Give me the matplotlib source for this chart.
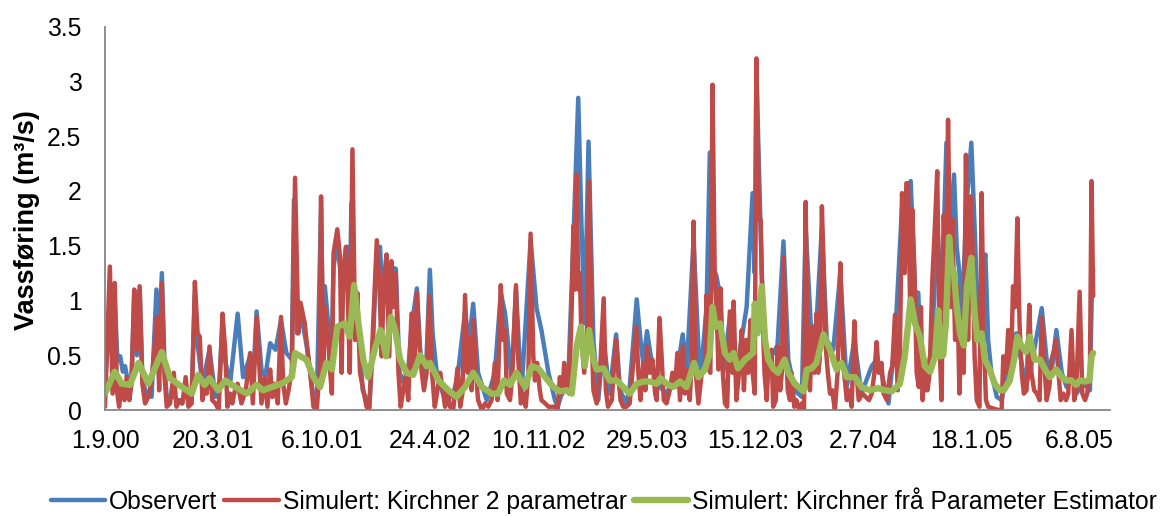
import matplotlib
matplotlib.use("Agg")
import matplotlib.pyplot as plt

plt.rcParams["font.family"] = ["Liberation Sans", "DejaVu Sans"]

# Daily discharge, 1.9.2000 - 31.8.2005, given as (day since 1.9.2000, m3/s) vertices
obs_days = [0, 9, 14, 18, 23, 28, 33, 37, 43, 49, 54, 59, 64, 69, 74, 86, 95, 100, 105, 110,
            114, 127, 142, 149, 160, 166, 171, 180, 193, 204, 210, 217, 222, 231, 245, 255, 268,
            274, 280, 289, 296, 305, 315, 325, 335, 345, 349, 355, 361, 372, 380, 386, 391, 399,
            403, 406, 412, 418, 422, 429, 434, 440, 447, 452, 455, 462, 466, 476, 488, 494, 502,
            508, 513, 520, 525, 530, 537, 544, 557, 566, 576, 582, 588, 594, 600, 605, 612, 624,
            642, 651, 665, 672, 680, 689, 705, 720, 731, 739, 751, 759, 769, 786, 797, 806, 819,
            831, 836, 856, 865, 874, 880, 886, 893, 902, 911, 921, 932, 944, 951, 963, 969, 982,
            989, 994, 1001, 1009, 1019, 1037, 1056, 1067, 1074, 1087, 1099, 1111, 1117, 1122,
            1129, 1136, 1142, 1154, 1166, 1185, 1196, 1200, 1203, 1213, 1222, 1231, 1242, 1253,
            1262, 1274, 1287, 1294, 1305, 1314, 1324, 1333, 1345, 1358, 1370, 1384, 1397, 1416,
            1425, 1434, 1447, 1459, 1472, 1480, 1488, 1496, 1502, 1508, 1515, 1528, 1533, 1537,
            1545, 1554, 1562, 1568, 1573, 1578, 1582, 1586, 1591, 1600, 1607, 1613, 1619, 1626,
            1631, 1637, 1647, 1656, 1665, 1683, 1696, 1702, 1714, 1730, 1739, 1748, 1757, 1767,
            1776, 1785, 1794, 1807, 1819, 1823, 1825]
obs_flow = [0.24, 0.90, 0.35, 1.00, 0.45, 0.49, 0.35, 0.40, 0.24, 0.30, 1.05, 0.50, 1.10, 0.30,
            0.18, 0.12, 1.10, 0.60, 1.25, 0.40, 0.12, 0.12, 0.06, 0.20, 0.12, 1.05, 0.60, 0.24,
            0.55, 0.12, 0.15, 0.80, 0.45, 0.24, 0.88, 0.30, 0.49, 0.30, 0.90, 0.37, 0.30, 0.61,
            0.55, 0.82, 0.52, 0.46, 1.92, 0.70, 0.90, 0.60, 0.30, 0.06, 0.06, 1.85, 0.60, 1.13,
            0.80, 0.30, 1.30, 1.55, 1.30, 1.20, 1.49, 0.90, 1.89, 0.64, 0.90, 0.18, 0.03, 0.50,
            1.45, 1.49, 0.90, 1.35, 0.90, 1.30, 1.29, 0.34, 0.18, 0.75, 1.11, 0.55, 0.34, 0.50,
            1.28, 0.70, 0.37, 0.15, 0.12, 0.30, 0.90, 0.60, 0.97, 0.34, 0.09, 0.34, 1.07, 0.88,
            0.27, 1.10, 0.15, 1.55, 0.93, 0.73, 0.34, 0.09, 0.03, 0.34, 1.55, 2.85, 1.68, 0.79,
            2.45, 0.64, 0.09, 0.64, 0.15, 0.69, 0.18, 0.06, 0.21, 1.01, 0.64, 0.43, 0.72, 0.46,
            0.24, 0.15, 0.34, 0.69, 0.34, 1.55, 0.24, 0.94, 2.35, 1.30, 1.23, 1.04, 0.34, 0.85,
            0.34, 0.94, 1.98, 1.25, 3.08, 1.25, 0.34, 0.49, 0.59, 1.54, 0.46, 0.18, 0.12, 1.67,
            0.64, 0.80, 1.67, 0.64, 0.55, 1.25, 0.21, 0.64, 0.15, 0.40, 0.46, 0.34, 0.06, 0.64,
            1.86, 2.00, 2.09, 1.08, 1.07, 0.30, 0.18, 0.64, 1.25, 1.71, 0.94, 2.44, 1.68, 2.15,
            1.49, 1.25, 0.79, 1.25, 1.86, 2.44, 1.55, 0.64, 1.25, 1.42, 0.64, 0.34, 0.12, 0.09,
            0.34, 0.70, 0.34, 0.24, 0.49, 0.93, 0.46, 0.34, 0.73, 0.34, 0.21, 0.34, 0.15, 0.24,
            0.18, 1.20, 1.28]

kir2_days = [0, 9, 14, 18, 22, 26, 31, 36, 40, 45, 49, 54, 59, 64, 69, 74, 80, 86, 91, 96, 100,
             105, 110, 114, 120, 127, 132, 138, 143, 149, 154, 160, 166, 171, 175, 180, 185, 188,
             193, 198, 204, 210, 217, 222, 226, 231, 235, 240, 245, 252, 260, 268, 273, 280, 285,
             289, 295, 300, 305, 309, 313, 319, 325, 329, 334, 339, 345, 351, 357, 361, 369, 372,
             379, 385, 391, 396, 399, 403, 406, 412, 416, 419, 422, 429, 434, 437, 440, 445, 449,
             452, 457, 462, 466, 471, 477, 483, 488, 494, 502, 507, 511, 515, 520, 525, 529, 532,
             537, 542, 546, 551, 556, 560, 566, 571, 576, 580, 585, 589, 594, 599, 604, 609, 614,
             619, 623, 628, 633, 637, 643, 651, 656, 660, 665, 670, 673, 677, 681, 685, 689, 696,
             702, 708, 714, 720, 725, 731, 735, 739, 742, 748, 752, 759, 763, 768, 773, 777, 782,
             786, 791, 794, 798, 803, 806, 813, 819, 825, 831, 836, 840, 845, 848, 853, 857, 862,
             865, 868, 871, 874, 877, 880, 885, 890, 894, 899, 902, 908, 914, 921, 925, 929, 936,
             940, 944, 948, 952, 957, 963, 969, 974, 981, 985, 989, 994, 998, 1001, 1006, 1011,
             1016, 1019, 1024, 1028, 1032, 1037, 1043, 1048, 1053, 1057, 1062, 1067, 1071, 1075,
             1080, 1083, 1087, 1091, 1096, 1102, 1108, 1111, 1115, 1118, 1122, 1126, 1130, 1133,
             1137, 1141, 1145, 1149, 1154, 1159, 1161, 1166, 1171, 1176, 1180, 1184, 1188, 1192,
             1196, 1200, 1203, 1208, 1211, 1214, 1218, 1222, 1226, 1231, 1234, 1239, 1242, 1247,
             1250, 1253, 1257, 1261, 1265, 1268, 1273, 1277, 1282, 1287, 1291, 1294, 1298, 1302,
             1306, 1310, 1314, 1317, 1320, 1324, 1327, 1330, 1335, 1339, 1343, 1348, 1353, 1358,
             1362, 1365, 1370, 1374, 1379, 1384, 1388, 1392, 1399, 1405, 1411, 1416, 1421, 1425,
             1429, 1434, 1438, 1444, 1450, 1454, 1459, 1464, 1468, 1472, 1477, 1480, 1483, 1487,
             1491, 1495, 1499, 1503, 1507, 1510, 1514, 1519, 1523, 1528, 1533, 1537, 1541, 1545,
             1549, 1553, 1557, 1562, 1565, 1570, 1574, 1578, 1582, 1586, 1590, 1594, 1599, 1602,
             1606, 1610, 1615, 1619, 1623, 1627, 1631, 1637, 1643, 1650, 1656, 1659, 1664, 1668,
             1673, 1677, 1681, 1685, 1689, 1693, 1697, 1702, 1707, 1711, 1716, 1721, 1726, 1730,
             1734, 1739, 1744, 1748, 1753, 1756, 1761, 1765, 1770, 1775, 1779, 1785, 1790, 1794,
             1800, 1805, 1810, 1814, 1819, 1822, 1825]
kir2_flow = [0.03, 1.31, 0.15, 1.16, 0.18, 0.03, 0.24, 0.09, 0.30, 0.09, 0.24, 1.10, 0.55, 1.13,
             0.24, 0.06, 0.12, 0.27, 0.55, 0.85, 0.18, 1.16, 0.30, 0.03, 0.06, 0.34, 0.03, 0.09,
             0.06, 0.30, 0.03, 0.06, 1.17, 0.70, 0.67, 0.09, 0.24, 0.15, 0.58, 0.09, 0.06, 0.00,
             0.88, 0.55, 0.03, 0.15, 0.06, 0.18, 0.24, 0.06, 0.18, 0.52, 0.06, 0.85, 0.40, 0.06,
             0.30, 0.03, 0.37, 0.12, 0.24, 0.06, 0.85, 0.24, 0.06, 0.18, 0.37, 2.12, 0.70, 0.98,
             0.79, 0.64, 0.34, 0.03, 0.00, 0.34, 1.95, 0.34, 0.94, 0.64, 0.34, 0.15, 1.43, 1.65,
             1.40, 0.34, 1.25, 1.49, 0.94, 0.34, 2.38, 0.64, 1.07, 0.34, 0.18, 0.03, 0.00, 0.64,
             1.55, 1.10, 0.49, 1.19, 1.42, 0.49, 1.36, 0.94, 1.25, 0.34, 0.03, 0.18, 0.34, 0.09,
             0.88, 0.34, 1.07, 0.64, 0.34, 0.18, 0.34, 1.04, 0.34, 0.03, 0.18, 0.34, 0.21, 0.03,
             0.18, 0.03, 0.00, 0.38, 0.03, 0.15, 1.05, 0.34, 0.67, 0.18, 0.82, 0.34, 0.09, 0.00,
             0.06, 0.03, 0.09, 0.43, 0.09, 1.14, 0.64, 0.73, 0.15, 0.09, 0.30, 1.14, 0.49, 0.06,
             0.15, 0.03, 0.34, 1.61, 0.49, 0.27, 0.43, 0.18, 0.09, 0.06, 0.03, 0.03, 0.03, 0.00,
             0.30, 0.15, 0.43, 0.18, 0.15, 0.94, 1.68, 1.10, 2.15, 1.10, 1.25, 0.64, 0.34, 0.64,
             2.09, 0.64, 0.18, 0.06, 0.34, 1.02, 0.18, 0.03, 0.09, 0.40, 0.64, 0.34, 0.09, 0.03,
             0.03, 0.06, 0.34, 0.76, 0.34, 0.09, 0.43, 0.18, 0.58, 0.34, 0.46, 0.15, 0.09, 0.84,
             0.49, 0.09, 0.06, 0.18, 0.34, 0.21, 0.52, 0.09, 0.58, 0.15, 0.37, 0.09, 0.40, 1.72,
             0.34, 0.06, 0.34, 0.37, 1.05, 0.37, 0.34, 2.97, 1.25, 0.85, 0.37, 1.11, 0.34, 0.06,
             0.03, 0.90, 0.34, 0.99, 0.09, 0.34, 0.73, 0.18, 0.64, 0.34, 0.82, 0.34, 0.15, 3.21,
             1.74, 1.74, 0.94, 0.34, 0.09, 0.49, 0.55, 0.03, 0.09, 0.58, 0.18, 0.34, 1.40, 0.64,
             0.18, 0.09, 0.34, 0.03, 0.09, 0.00, 0.06, 0.00, 1.90, 0.34, 0.18, 0.76, 0.34, 0.88,
             0.34, 0.46, 1.86, 1.31, 0.64, 0.34, 0.15, 0.18, 0.00, 0.34, 1.34, 0.64, 0.34, 0.09,
             0.18, 0.03, 0.81, 0.34, 0.09, 0.15, 0.12, 0.09, 0.15, 0.34, 0.62, 0.34, 0.43, 0.15,
             0.09, 0.34, 0.40, 0.87, 0.18, 0.49, 1.98, 1.25, 2.07, 2.07, 0.94, 1.83, 1.25, 0.34,
             0.21, 0.94, 0.09, 0.46, 0.18, 0.34, 1.19, 1.71, 2.18, 0.64, 0.09, 1.78, 1.25, 2.65,
             0.94, 1.74, 0.64, 1.13, 0.15, 0.76, 0.34, 2.33, 0.64, 1.95, 1.55, 0.49, 0.09, 0.03,
             1.98, 0.64, 0.09, 0.03, 0.02, 0.01, 0.00, 0.00, 0.49, 0.34, 0.73, 0.34, 1.13, 0.94,
             1.75, 0.79, 0.34, 0.15, 0.18, 0.96, 0.34, 0.18, 0.15, 0.09, 0.85, 0.49, 0.09, 0.21,
             0.46, 0.55, 0.64, 0.34, 0.09, 0.15, 0.09, 0.15, 0.73, 0.09, 0.18, 1.08, 0.15, 0.09,
             0.15, 0.34, 2.09, 1.04]

pe_days = [0, 18, 31, 46, 62, 80, 105, 120, 142, 160, 172, 184, 193, 209, 222, 240, 262, 280,
           292, 308, 326, 345, 351, 361, 372, 385, 397, 409, 419, 429, 443, 452, 460, 468, 477,
           486, 498, 509, 519, 528, 536, 545, 557, 569, 582, 594, 600, 616, 634, 649, 665, 680,
           696, 714, 726, 737, 748, 760, 776, 788, 800, 813, 828, 840, 853, 862, 871, 879, 886,
           894, 902, 908, 921, 932, 945, 957, 969, 982, 994, 1006, 1019, 1026, 1037, 1049, 1062,
           1074, 1088, 1096, 1108, 1117, 1122, 1128, 1136, 1145, 1154, 1161, 1169, 1182, 1197,
           1200, 1205, 1213, 1219, 1225, 1234, 1243, 1255, 1262, 1274, 1290, 1296, 1305, 1314,
           1327, 1339, 1351, 1360, 1370, 1385, 1397, 1413, 1428, 1440, 1453, 1468, 1477, 1488,
           1496, 1505, 1514, 1524, 1533, 1539, 1543, 1548, 1553, 1559, 1563, 1568, 1573, 1579,
           1586, 1592, 1600, 1605, 1611, 1619, 1625, 1634, 1643, 1653, 1660, 1671, 1679, 1685,
           1693, 1701, 1708, 1717, 1727, 1736, 1745, 1757, 1767, 1776, 1785, 1793, 1800, 1810,
           1818, 1822, 1825]
pe_flow = [0.15, 0.35, 0.24, 0.23, 0.43, 0.24, 0.53, 0.29, 0.21, 0.15, 0.32, 0.23, 0.29, 0.18,
           0.27, 0.21, 0.15, 0.23, 0.18, 0.21, 0.24, 0.30, 0.52, 0.49, 0.46, 0.30, 0.21, 0.43,
           0.37, 0.76, 0.79, 0.67, 1.14, 0.79, 0.46, 0.30, 0.55, 0.73, 0.49, 0.85, 0.73, 0.46,
           0.34, 0.32, 0.50, 0.40, 0.43, 0.27, 0.18, 0.12, 0.21, 0.34, 0.21, 0.15, 0.15, 0.27,
           0.23, 0.34, 0.21, 0.40, 0.38, 0.30, 0.21, 0.17, 0.18, 0.15, 0.58, 0.76, 0.40, 0.73,
           0.46, 0.37, 0.38, 0.27, 0.27, 0.21, 0.15, 0.24, 0.26, 0.26, 0.24, 0.29, 0.24, 0.21,
           0.26, 0.21, 0.43, 0.30, 0.37, 0.52, 0.94, 0.76, 0.79, 0.52, 0.46, 0.52, 0.38, 0.46,
           0.52, 0.97, 0.70, 1.13, 0.64, 0.46, 0.38, 0.34, 0.46, 0.34, 0.24, 0.17, 0.37, 0.38,
           0.43, 0.69, 0.55, 0.37, 0.43, 0.30, 0.30, 0.21, 0.18, 0.20, 0.18, 0.17, 0.24, 0.49,
           1.01, 0.79, 0.67, 0.40, 0.35, 0.49, 0.91, 0.49, 0.50, 0.79, 1.58, 1.31, 1.25, 0.94,
           0.70, 0.59, 1.13, 1.39, 0.94, 0.64, 0.70, 0.46, 0.37, 0.24, 0.18, 0.18, 0.27, 0.46,
           0.67, 0.58, 0.53, 0.67, 0.46, 0.46, 0.37, 0.30, 0.37, 0.30, 0.27, 0.27, 0.23, 0.27,
           0.26, 0.27, 0.49, 0.52]

tick_days = [0, 200, 400, 600, 800, 1000, 1200, 1400, 1600, 1800]
tick_labels = ["1.9.00", "20.3.01", "6.10.01", "24.4.02", "10.11.02", "29.5.03",
               "15.12.03", "2.7.04", "18.1.05", "6.8.05"]
series_names = ["Observert", "Simulert: Kirchner 2 parametrar",
                "Simulert: Kirchner frå Parameter Estimator"]

fig = plt.figure(figsize=(11.68, 5.16), dpi=100)
ax = fig.add_axes([0.0899, 0.2054, 0.8604, 0.743])

line_kw = dict(solid_joinstyle="round", solid_capstyle="round")
ax.plot(obs_days, obs_flow, color="#4A7EBB", lw=3.2, label=series_names[0], **line_kw)
ax.plot(kir2_days, kir2_flow, color="#BE4B48", lw=3.2, label=series_names[1], **line_kw)
ax.plot(pe_days, pe_flow, color="#98B954", lw=4.6, label=series_names[2], **line_kw)

ax.set_xlim(0, 1856)
ax.set_ylim(0, 3.5)
ax.set_yticks([0, 0.5, 1, 1.5, 2, 2.5, 3, 3.5])
ax.set_yticklabels(["0", "0.5", "1", "1.5", "2", "2.5", "3", "3.5"])
ax.set_xticks(tick_days)
ax.set_xticklabels(tick_labels)
ax.tick_params(axis="both", length=0, labelsize=17.8, colors="black")
ax.tick_params(axis="y", pad=17)
ax.tick_params(axis="x", pad=14)

for side in ("top", "right"):
    ax.spines[side].set_visible(False)
for side in ("left", "bottom"):
    ax.spines[side].set_color("#868686")
    ax.spines[side].set_linewidth(1.3)

fig.text(0.023, 0.574, "Vassføring (m³/s)", rotation=90, ha="center", va="center",
         fontsize=19.5, fontweight="bold")

fig.legend(loc="center", bbox_to_anchor=(0.517, 0.028), ncol=3, frameon=False,
           fontsize=17.8, handlelength=2.2, handletextpad=0.15, columnspacing=0.3)

fig.savefig("out.png", dpi=100)
